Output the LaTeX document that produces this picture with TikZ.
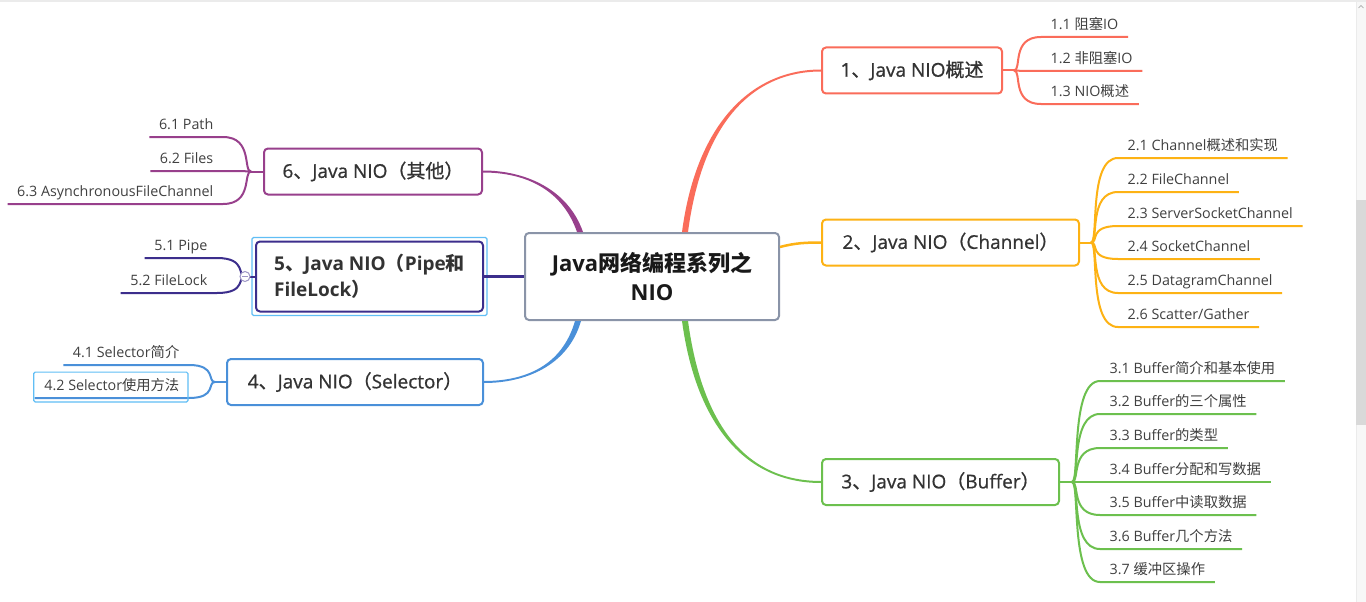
\documentclass[tikz,border=0pt]{standalone}
\usepackage{fontspec}
\setmainfont{Open Sans}
\newfontfamily\zh{Noto Sans CJK SC}
\newfontfamily\topicfont{Open Sans}[FakeBold=0.8]
\newfontfamily\zhtopic{Noto Sans CJK SC}[FakeBold=0.8]
\usepackage{tikz}
\usetikzlibrary{shapes,arrows,positioning}

\definecolor{rootc}{RGB}{138,148,168}
\definecolor{cone}{RGB}{250,108,90}
\definecolor{ctwo}{RGB}{253,178,20}
\definecolor{cthree}{RGB}{108,192,78}
\definecolor{cfour}{RGB}{74,144,217}
\definecolor{cfive}{RGB}{60,46,140}
\definecolor{csix}{RGB}{152,64,140}
\definecolor{selc}{RGB}{96,190,245}

\tikzset{
	root/.style={draw=rootc, line width=2pt, rounded corners=4pt, fill=white, minimum width=254pt, minimum height=87pt, align=center, font=\fontsize{22}{29}\selectfont\bfseries, text=black!90},
	topic/.style={draw=#1, line width=2pt, rounded corners=4pt, fill=white, minimum height=46pt, inner xsep=15pt, font=\let\zh\zhtopic\fontsize{19}{25}\topicfont, text=black!80},
	leaf/.style={inner xsep=9.5pt, inner ysep=4.5pt, text height=10.5pt, text depth=3pt, font=\fontsize{14.3}{17}\selectfont, text=black!75},
	rightleaf/.style={leaf, anchor=south west},
	leftleaf/.style={leaf, anchor=south east},
	branch/.style={draw=#1, line width=2pt},
	selbox/.style={draw=selc, line width=1.2pt, rounded corners=1.5pt},
}

\begin{document}
\begin{tikzpicture}[x=1pt, y=-1pt]
		\fill[white] (0,0) rectangle (1366,602);
		\useasboundingbox (0,0) rectangle (1366,602);
		% scroll bar
		\fill[black!8] (0,0) rectangle (1366,2);
		\fill[black!3] (1356,2) rectangle (1366,602);
		\draw[black!8] (1356,2) -- (1356,602);
		\fill[black!15] (1356,200) rectangle (1366,425);
		\draw[black!40, line width=0.6pt] (1358.5,8) -- (1361,5.5) -- (1363.5,8);

		% main topics
		\node[root] (root) at (652,276.5) {Java{\zh 网络编程系列之}\\NIO};
		\node[topic=cone, anchor=west, minimum width=180pt] (n1) at (821,70.5) {1{\zh 、}Java NIO{\zh 概述}};
		\node[topic=ctwo, anchor=west, minimum width=257pt] (n2) at (821,242.5) {2{\zh 、}Java NIO{\zh （}Channel{\zh ）}};
		\node[topic=cthree, anchor=west, minimum width=237pt] (n3) at (821,482) {3{\zh 、}Java NIO{\zh （}Buffer{\zh ）}};
		\node[topic=cfour, anchor=east, minimum width=256pt] (n4) at (484,382) {4{\zh 、}Java NIO{\zh （}Selector{\zh ）}};
		\node[topic=cfive, anchor=east, minimum width=227pt, minimum height=70pt, inner xsep=10pt, align=left, font=\fontsize{19}{26}\selectfont\bfseries] (n5) at (484,276.5) {5{\zh 、}Java NIO{\zh （}Pipe{\zh 和}\\FileLock{\zh ）}};
		\node[topic=csix, anchor=east, minimum width=218pt] (n6) at (483,171.5) {6{\zh 、}Java NIO{\zh （其他）}};
		\draw[selbox] ([shift={(-3pt,-3pt)}]n5.south west) rectangle ([shift={(3pt,3pt)}]n5.north east);

		% root connectors
		\fill[cone] ([xshift=30pt]root.north) .. controls +(15,-113) and +(-66,0) .. ([yshift=1pt]n1.west) -- ([yshift=-1pt]n1.west) .. controls +(-66,0) and +(15,-113) .. ([xshift=36pt]root.north) -- cycle;
		\fill[cthree] ([xshift=30pt]root.south) .. controls +(15,110) and +(-71,0) .. ([yshift=-1pt]n3.west) -- ([yshift=1pt]n3.west) .. controls +(-71,0) and +(15,110) .. ([xshift=36pt]root.south) -- cycle;
		\fill[csix] ([xshift=-69pt]root.north) .. controls +(-15,-43) and +(42,0) .. ([yshift=1pt]n6.east) -- ([yshift=-1pt]n6.east) .. controls +(42,0) and +(-15,-43) .. ([xshift=-75pt]root.north) -- cycle;
		\fill[cfour] ([xshift=-77pt]root.south) .. controls +(-13,45) and +(41,0) .. ([yshift=1pt]n4.east) -- ([yshift=-1pt]n4.east) .. controls +(41,0) and +(-13,45) .. ([xshift=-71pt]root.south) -- cycle;
		\draw[ctwo, line width=2.5pt] ([yshift=29.5pt]root.east) .. controls +(15,-4) and +(-15,0) .. (n2.west);
		\draw[cfive, line width=2.5pt] (root.west) -- (n5.east);

		% forks
		\coordinate (f1) at ([xshift=11pt]n1.east);
		\coordinate (f2) at ([xshift=11pt]n2.east);
		\coordinate (f3) at ([xshift=12pt]n3.east);
		\coordinate (f4) at ([xshift=-11pt]n4.west);
		\coordinate (f5) at ([xshift=-10pt]n5.west);
		\coordinate (f6) at ([xshift=-12pt]n6.west);
		\draw[branch=cone] (n1.east) -- (f1);
		\draw[branch=ctwo] (n2.east) -- (f2);
		\draw[branch=cthree] (n3.east) -- (f3);
		\draw[branch=cfour] (n4.west) -- (f4);
		\draw[branch=cfive] (n5.west) -- (f5);
		\draw[branch=csix] (n6.west) -- (f6);

		% leaves
		\foreach \i/\y/\t in {1/37/{1.1 {\zh 阻塞}IO}, 2/71/{1.2 {\zh 非阻塞}IO}, 3/104/{1.3 NIO{\zh 概述}}} {
			\node[rightleaf] (l1\i) at (1041,\y) {\t};
			\draw[branch=cone] (f1) .. controls +(8,0) and +(-30,0) .. (l1\i.south west) -- (l1\i.south east);
		}
		\foreach \i/\y/\t in {1/158/{2.1 Channel{\zh 概述和实现}}, 2/192/{2.2 FileChannel}, 3/226/{2.3 ServerSocketChannel}, 4/259/{2.4 SocketChannel}, 5/293/{2.5 DatagramChannel}, 6/327/{2.6 Scatter/Gather}} {
			\node[rightleaf] (l2\i) at (1118,\y) {\t};
			\draw[branch=ctwo] (f2) .. controls +(8,0) and +(-30,0) .. (l2\i.south west) -- (l2\i.south east);
		}
		\foreach \i/\y/\t in {1/381/{3.1 Buffer{\zh 简介和基本使用}}, 2/414/{3.2 Buffer{\zh 的三个属性}}, 3/448/{3.3 Buffer{\zh 的类型}}, 4/482/{3.4 Buffer{\zh 分配和写数据}}, 5/515/{3.5 Buffer{\zh 中读取数据}}, 6/549/{3.6 Buffer{\zh 几个方法}}, 7/582/{3.7 {\zh 缓冲区操作}}} {
			\node[rightleaf] (l3\i) at (1100,\y) {\t};
			\draw[branch=cthree] (f3) .. controls +(8,0) and +(-30,0) .. (l3\i.south west) -- (l3\i.south east);
		}
		\foreach \i/\y/\t in {1/365/{4.1 Selector{\zh 简介}}, 2/398/{4.2 Selector{\zh 使用方法}}} {
			\node[leftleaf] (l4\i) at (189,\y) {\t};
			\draw[branch=cfour] (f4) .. controls +(-8,0) and +(28,0) .. (l4\i.south east) -- (l4\i.south west);
		}
		\foreach \i/\y/\t in {1/258/{5.1 Pipe}, 2/293/{5.2 FileLock}} {
			\node[leftleaf] (l5\i) at (217,\y) {\t};
			\draw[branch=cfive] (f5) .. controls +(-8,0) and +(30,0) .. (l5\i.south east) -- (l5\i.south west);
		}
		\foreach \i/\y/\t in {1/137/{6.1 Path}, 2/171/{6.2 Files}, 3/204/{6.3 AsynchronousFileChannel}} {
			\node[leftleaf] (l6\i) at (223,\y) {\t};
			\draw[branch=csix] (f6) .. controls +(-8,0) and +(30,0) .. (l6\i.south east) -- (l6\i.south west);
		}
		\draw[selbox] ([shift={(-1pt,-4pt)}]l42.south west) rectangle ([shift={(-1pt,3pt)}]l42.north east);

		% collapse toggle
		\node[circle, draw=cfive!50, fill=white, line width=1pt, inner sep=0pt, minimum size=10pt] (tog) at (f5) {};
		\draw[cfive!50, line width=1pt] ([xshift=-3pt]tog.center) -- ([xshift=3pt]tog.center);
\end{tikzpicture}
\end{document}
